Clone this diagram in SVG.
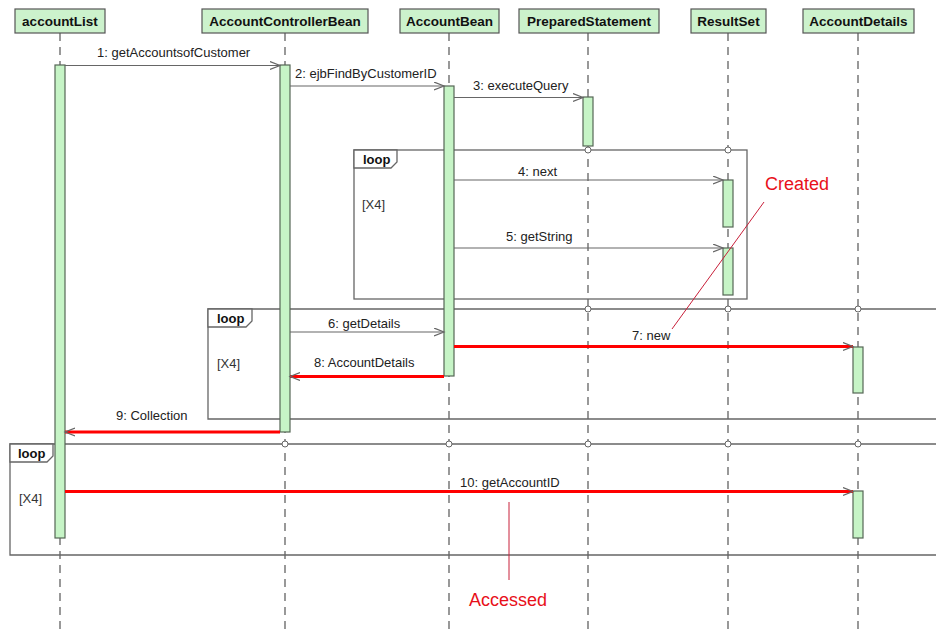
<svg xmlns="http://www.w3.org/2000/svg" width="936" height="630" viewBox="0 0 936 630">
<defs>
<style>
.hdr{fill:#ccf2cc;stroke:#555;stroke-width:1.2}
.hdrt{font-family:"Liberation Sans",Arial,sans-serif;font-weight:bold;font-size:13.5px;fill:#111;text-anchor:middle}
.life{stroke:#555;stroke-width:1.2;stroke-dasharray:8,6;fill:none}
.act{fill:#c6f4c6;stroke:#556655;stroke-width:1.2}
.frame{fill:none;stroke:#666;stroke-width:1.3}
.tab{fill:#fff;stroke:#666;stroke-width:1.3}
.tabt{font-family:"Liberation Sans",Arial,sans-serif;font-weight:bold;font-size:13px;fill:#111}
.guard{font-family:"Liberation Sans",Arial,sans-serif;font-size:13px;fill:#333}
.msg{stroke:#666;stroke-width:1.2;fill:none}
.red{stroke:#f00;stroke-width:3;fill:none}
.lbl{font-family:"Liberation Sans",Arial,sans-serif;font-size:13px;fill:#222}
.note{font-family:"Liberation Sans",Arial,sans-serif;font-size:18px;fill:#e8101a}
.noteline{stroke:#c8203a;stroke-width:1;fill:none}
.dot{fill:#fff;stroke:#666;stroke-width:1}
</style>
<marker id="ah" markerUnits="userSpaceOnUse" markerWidth="12" markerHeight="10" refX="10" refY="4.5" orient="auto" viewBox="0 0 12 10"><path d="M0,0.5 L10,4.5 L0,8.5" fill="none" stroke="#666" stroke-width="1.2"/></marker>
</defs>
<rect width="936" height="630" fill="#fff"/>

<!-- lifelines -->
<g id="lifelines">
<line class="life" x1="60" y1="33" x2="60" y2="630"/>
<line class="life" x1="285" y1="33" x2="285" y2="630"/>
<line class="life" x1="449" y1="33" x2="449" y2="630"/>
<line class="life" x1="588" y1="33" x2="588" y2="630"/>
<line class="life" x1="728" y1="33" x2="728" y2="630"/>
<line class="life" x1="858" y1="33" x2="858" y2="630"/>
</g>

<!-- loop frames -->
<g id="loop1">
<rect class="frame" x="354" y="150" width="393" height="149"/>
<path class="tab" d="M354,150 H397 V162 L391,168 H354 Z"/>
<text class="tabt" x="363" y="164">loop</text>
<text class="guard" x="362" y="209">[X4]</text>
</g>
<g id="loop2">
<path class="frame" d="M936,309 H208 V419 H936"/>
<path class="tab" d="M208,309 H252 V321 L246,327 H208 Z"/>
<text class="tabt" x="217" y="323">loop</text>
<text class="guard" x="217" y="368">[X4]</text>
</g>
<g id="loop3">
<path class="frame" d="M936,444 H10 V555 H936"/>
<path class="tab" d="M10,444 H53 V456 L47,462 H10 Z"/>
<text class="tabt" x="18" y="458">loop</text>
<text class="guard" x="19" y="503">[X4]</text>
</g>
<g id="frame-dots">
<circle class="dot" cx="588" cy="150" r="3"/>
<circle class="dot" cx="728" cy="150" r="3"/>
<circle class="dot" cx="588" cy="309" r="3"/>
<circle class="dot" cx="728" cy="309" r="3"/>
<circle class="dot" cx="858" cy="309" r="3"/>
<circle class="dot" cx="285" cy="444" r="3"/>
<circle class="dot" cx="449" cy="444" r="3"/>
<circle class="dot" cx="588" cy="444" r="3"/>
<circle class="dot" cx="728" cy="444" r="3"/>
<circle class="dot" cx="858" cy="444" r="3"/>
</g>

<!-- nodes -->
<g id="accountList">
<rect class="hdr" x="15" y="9" width="90" height="24"/>
<text class="hdrt" x="60" y="26">accountList</text>
<rect class="act" x="55" y="65" width="10" height="473"/>
</g>
<g id="AccountControllerBean">
<rect class="hdr" x="202" y="9" width="166" height="24"/>
<text class="hdrt" x="285" y="26">AccountControllerBean</text>
<rect class="act" x="280" y="65" width="10" height="367"/>
</g>
<g id="AccountBean">
<rect class="hdr" x="400" y="9" width="99" height="24"/>
<text class="hdrt" x="449.5" y="26">AccountBean</text>
<rect class="act" x="444" y="86" width="10" height="290"/>
</g>
<g id="PreparedStatement">
<rect class="hdr" x="519" y="9" width="140" height="24"/>
<text class="hdrt" x="589" y="26">PreparedStatement</text>
<rect class="act" x="583" y="97" width="10" height="49"/>
</g>
<g id="ResultSet">
<rect class="hdr" x="691" y="9" width="75" height="24"/>
<text class="hdrt" x="728.5" y="26">ResultSet</text>
<rect class="act" x="723" y="180" width="10" height="47"/>
<rect class="act" x="723" y="248" width="10" height="47"/>
</g>
<g id="AccountDetails">
<rect class="hdr" x="803" y="9" width="111" height="24"/>
<text class="hdrt" x="858.5" y="26">AccountDetails</text>
<rect class="act" x="853" y="347" width="10" height="46"/>
<rect class="act" x="853" y="491" width="10" height="47"/>
</g>

<!-- connectors -->
<g id="connectors">
<line class="msg" x1="65" y1="65.5" x2="280" y2="65.5" marker-end="url(#ah)"/>
<text class="lbl" x="97" y="57">1: getAccountsofCustomer</text>
<line class="msg" x1="290" y1="86" x2="444" y2="86" marker-end="url(#ah)"/>
<text class="lbl" x="295" y="77.5">2: ejbFindByCustomerID</text>
<line class="msg" x1="454" y1="97.5" x2="583" y2="97.5" marker-end="url(#ah)"/>
<text class="lbl" x="473" y="89.5">3: executeQuery</text>
<line class="msg" x1="454" y1="180" x2="723" y2="180" marker-end="url(#ah)"/>
<text class="lbl" x="518" y="176">4: next</text>
<line class="msg" x1="454" y1="248" x2="723" y2="248" marker-end="url(#ah)"/>
<text class="lbl" x="506" y="241">5: getString</text>
<line class="msg" x1="290" y1="332" x2="444" y2="332" marker-end="url(#ah)"/>
<text class="lbl" x="328" y="327.5">6: getDetails</text>
<line class="red" x1="454" y1="346.5" x2="853" y2="346.5" marker-end="url(#ah)"/>
<text class="lbl" x="632" y="340">7: new</text>
<line class="red" x1="444" y1="376.5" x2="290" y2="376.5" marker-end="url(#ah)"/>
<text class="lbl" x="314" y="366.5">8: AccountDetails</text>
<line class="red" x1="280" y1="432" x2="65" y2="432" marker-end="url(#ah)"/>
<text class="lbl" x="116" y="420">9: Collection</text>
<line class="red" x1="65" y1="491.5" x2="853" y2="491.5" marker-end="url(#ah)"/>
<text class="lbl" x="460" y="487">10: getAccountID</text>
</g>

<!-- annotations -->
<g id="note-created">
<line class="noteline" x1="764" y1="202" x2="672" y2="329"/>
<text class="note" x="765" y="190">Created</text>
</g>
<g id="note-accessed">
<line class="noteline" x1="509" y1="502" x2="509" y2="580"/>
<text class="note" x="469" y="606">Accessed</text>
</g>
</svg>
